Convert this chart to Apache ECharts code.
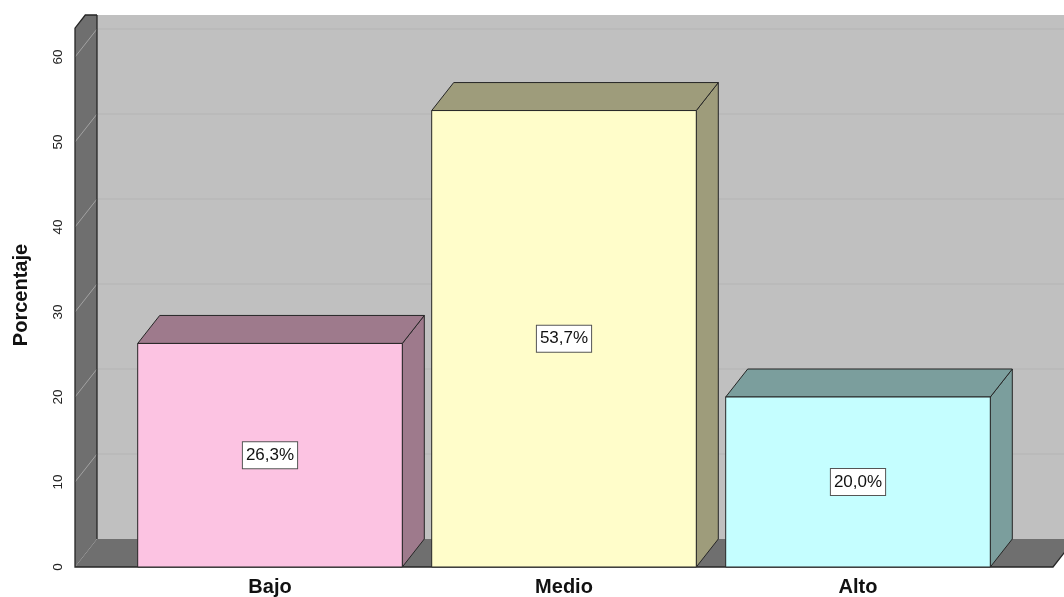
<!DOCTYPE html>
<html>
<head>
<meta charset="utf-8">
<script src="https://cdn.jsdelivr.net/npm/echarts@6/dist/echarts.min.js"></script>
<style>html,body{margin:0;padding:0;background:#fff}#c{width:1064px;height:597px}</style>
</head>
<body>
<div id="c"></div>
<script>
var categories = ['Bajo', 'Medio', 'Alto'];
var values = [26.3, 53.7, 20.0];
var valueLabels = ['26,3%', '53,7%', '20,0%'];
var yTicks = [0, 10, 20, 30, 40, 50, 60];

var frontColors = ['#fcc3e2', '#fffdca', '#c5feff'];
var sideColors = ['#9e7a8c', '#9e9c7b', '#7b9e9d'];

var DX = 22, DY = -28;      // 3D depth offset (pixels)
var WALL_OUT = 48;          // floor/wall extension beyond category band (pixels)
var CLIP_Y = 15;            // top of the drawn frame
var EDGE = '#262626';
var FONT = '"Liberation Sans", Arial, sans-serif';

var chart = echarts.init(document.getElementById('c'));

function wallsRender(params, api) {
  var cs = params.coordSys;
  var y0 = api.coord([0, 0])[1];
  var xL = cs.x - WALL_OUT;
  var xR = cs.x + cs.width + WALL_OUT;
  var yTopF = api.coord([0, 63.4])[1];
  var t = (yTopF - CLIP_Y) / (-DY) * DX;
  var children = [];
  children.push({type: 'rect', shape: {x: xL + DX, y: CLIP_Y, width: 1200, height: y0 + DY - CLIP_Y},
    style: {fill: '#c0c0c0'}});
  children.push({type: 'polygon', shape: {points: [[xL, y0], [xL, yTopF], [xL + t, CLIP_Y], [xL + DX, CLIP_Y], [xL + DX, y0 + DY]]},
    style: {fill: '#6f6f6f', stroke: 'none'}});
  children.push({type: 'polygon', shape: {points: [[xL, y0], [xR, y0], [xR + DX, y0 + DY], [xL + DX, y0 + DY]]},
    style: {fill: '#6f6f6f'}});
  yTicks.forEach(function (v) {
    if (v === 0) return;
    var y = api.coord([0, v])[1];
    children.push({type: 'line', shape: {x1: xL, y1: y, x2: xL + DX, y2: y + DY}, style: {stroke: '#a2a2a2', lineWidth: 1}});
    children.push({type: 'line', shape: {x1: xL + DX, y1: y + DY, x2: 1100, y2: y + DY}, style: {stroke: '#b4b4b4', lineWidth: 1}});
  });
  children.push({type: 'polyline', shape: {points: [[xL + DX, CLIP_Y], [xL + t, CLIP_Y], [xL, yTopF], [xL, y0], [xR, y0], [xR + DX, y0 + DY]]},
    style: {fill: 'none', stroke: EDGE, lineWidth: 1.3}});
  children.push({type: 'line', shape: {x1: xL + DX, y1: CLIP_Y, x2: xL + DX, y2: y0 + DY}, style: {stroke: EDGE, lineWidth: 1.3}});
  return {type: 'group', children: children};
}

function barRender(params, api) {
  var idx = params.dataIndex;
  var c = api.value(0);
  var v = api.value(1);
  var p0 = api.coord([c, 0]);
  var p1 = api.coord([c, v]);
  var w = api.size([1, 0])[0] * 0.9;
  var x0 = p0[0] - w / 2, x1 = p0[0] + w / 2;
  var yb = p0[1], yt = p1[1];
  var st = {stroke: EDGE, lineWidth: 1};
  return {type: 'group', children: [
    {type: 'polygon', shape: {points: [[x1, yb], [x1 + DX, yb + DY], [x1 + DX, yt + DY], [x1, yt]]},
      style: Object.assign({fill: sideColors[idx]}, st)},
    {type: 'polygon', shape: {points: [[x0, yt], [x0 + DX, yt + DY], [x1 + DX, yt + DY], [x1, yt]]},
      style: Object.assign({fill: sideColors[idx]}, st)},
    {type: 'rect', shape: {x: x0, y: yt, width: w, height: yb - yt},
      style: Object.assign({fill: frontColors[idx]}, st)},
    {type: 'text', x: p0[0], y: (yb + yt) / 2,
      style: {text: valueLabels[idx], fill: '#111', font: '17px ' + FONT,
        align: 'center', verticalAlign: 'middle', backgroundColor: '#fff', borderColor: '#555', borderWidth: 1,
        padding: [5, 3, 4, 3]}}
  ]};
}

var barData = categories.map(function (c, i) { return [i, values[i]]; });

chart.setOption({
  animation: false,
  backgroundColor: '#fff',
  grid: {left: 123, right: 59, top: 57, bottom: 30, containLabel: false},
  xAxis: {
    type: 'category', data: categories,
    axisLine: {show: false}, axisTick: {show: false}, splitLine: {show: false},
    axisLabel: {margin: 10, color: '#111', fontSize: 20, fontWeight: 'bold', fontFamily: FONT}
  },
  yAxis: {
    type: 'value', min: 0, max: 60, interval: 10, offset: 48,
    name: 'Porcentaje', nameLocation: 'middle', nameRotate: 90, nameGap: 44,
    nameTextStyle: {color: '#111', fontSize: 20, fontWeight: 'bold', fontFamily: FONT, padding: [0, 0, 0, 34]},
    axisLine: {show: false}, axisTick: {show: false}, splitLine: {show: false},
    axisLabel: {rotate: 90, margin: 10, color: '#222', fontSize: 13.5, fontFamily: FONT}
  },
  series: [
    {type: 'custom', renderItem: wallsRender, data: [[0, 0]], clip: false, silent: true, z: 1},
    {type: 'custom', renderItem: barRender, data: barData, clip: false, z: 2}
  ]
});
</script>
</body>
</html>
